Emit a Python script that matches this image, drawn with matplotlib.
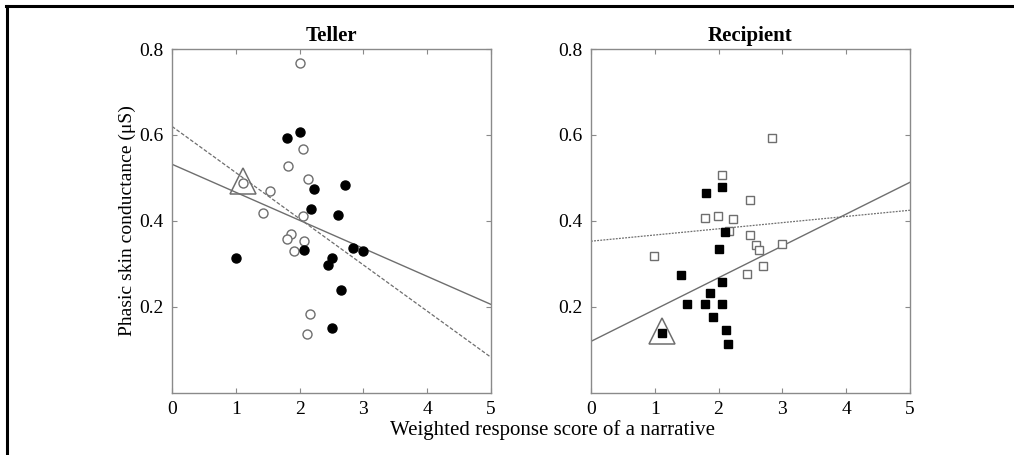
"""Phasic skin conductance vs weighted response score, Teller / Recipient panels."""

import matplotlib

matplotlib.use("Agg")
import matplotlib.pyplot as plt
from matplotlib.lines import Line2D

plt.rcParams["font.family"] = ["Liberation Serif", "DejaVu Serif"]

# Teller: filled circles
teller_filled_x = [1.80, 2.00, 2.23, 2.71, 2.18, 2.61, 2.07, 1.00, 2.83, 3.00, 2.51, 2.45, 2.65, 2.51]
teller_filled_y = [0.594, 0.607, 0.475, 0.483, 0.429, 0.414, 0.333, 0.314, 0.338, 0.330, 0.314, 0.297, 0.240, 0.150]
# Teller: open circles
teller_open_x = [2.00, 2.06, 1.82, 2.13, 1.12, 1.53, 1.42, 2.06, 1.87, 1.80, 2.07, 1.92, 2.16, 2.12]
teller_open_y = [0.768, 0.567, 0.529, 0.497, 0.488, 0.470, 0.419, 0.412, 0.369, 0.357, 0.353, 0.331, 0.184, 0.137]

# Recipient: open squares
recip_open_x = [2.83, 2.05, 2.49, 1.79, 1.99, 2.23, 2.17, 2.49, 2.59, 2.64, 2.99, 0.99, 2.69, 2.44]
recip_open_y = [0.592, 0.508, 0.449, 0.406, 0.412, 0.405, 0.376, 0.367, 0.345, 0.332, 0.347, 0.318, 0.295, 0.277]
# Recipient: filled squares
recip_filled_x = [2.05, 1.81, 2.10, 2.00, 1.41, 2.05, 1.86, 1.51, 1.79, 2.05, 1.91, 2.11, 2.15, 1.11]
recip_filled_y = [0.480, 0.464, 0.375, 0.336, 0.275, 0.257, 0.233, 0.206, 0.207, 0.206, 0.176, 0.146, 0.114, 0.139]

# highlighted cases (triangle)
teller_mark = (1.12, 0.488)
recip_mark = (1.11, 0.139)

# fitted lines, values at x = 0 and x = 5
fit_x = [0, 5]
teller_solid = [0.532, 0.206]
teller_dashed = [0.620, 0.083]
recip_solid = [0.120, 0.490]
recip_dotted = [0.353, 0.425]

titles = ["Teller", "Recipient"]
x_ticks = [0, 1, 2, 3, 4, 5]
y_ticks = [0.2, 0.4, 0.6, 0.8]

GRAY = "#6e6e6e"
AXIS_GRAY = "#8a8a8a"

fig = plt.figure(figsize=(10.14, 4.55), dpi=100)
ax_t = fig.add_axes([0.1696, 0.1363, 0.3146, 0.756])
ax_r = fig.add_axes([0.5828, 0.1363, 0.3146, 0.756])

# Teller panel
ax_t.plot(fit_x, teller_solid, color=GRAY, lw=1.0)
ax_t.plot(fit_x, teller_dashed, color=GRAY, lw=0.9, ls=(0, (3, 1.5)))
ax_t.plot(teller_open_x, teller_open_y, "o", ms=6.5, mfc="white", mec=GRAY, mew=1.0)
ax_t.plot(teller_filled_x, teller_filled_y, "o", ms=6.5, mfc="black", mec="black")
ax_t.plot(teller_mark[0], teller_mark[1] + 0.005, "^", ms=19, mfc="none", mec=GRAY, mew=1.1)

# Recipient panel
ax_r.plot(fit_x, recip_solid, color=GRAY, lw=1.0)
ax_r.plot(fit_x, recip_dotted, color=GRAY, lw=0.9, ls=(0, (1.5, 1)))
ax_r.plot(recip_open_x, recip_open_y, "s", ms=5.5, mfc="white", mec=GRAY, mew=1.0)
ax_r.plot(recip_filled_x, recip_filled_y, "s", ms=5.5, mfc="black", mec="black")
ax_r.plot(recip_mark[0], recip_mark[1] + 0.005, "^", ms=19, mfc="none", mec=GRAY, mew=1.1)

for ax, title in zip([ax_t, ax_r], titles):
    ax.set_xlim(0, 5)
    ax.set_ylim(0, 0.8)
    ax.set_xticks(x_ticks)
    ax.set_xticklabels([str(t) for t in x_ticks])
    ax.set_yticks(y_ticks)
    ax.set_yticklabels([f"{t:.1f}" for t in y_ticks])
    ax.tick_params(direction="in", length=3.5, width=0.8, color=AXIS_GRAY,
                   top=True, right=True, labelsize=14, pad=6)
    for sp in ax.spines.values():
        sp.set_color(AXIS_GRAY)
        sp.set_linewidth(1.0)
    ax.set_title(title, fontsize=15, fontweight="bold", pad=6)

ax_t.set_ylabel("Phasic skin conductance (μS)", fontsize=14, labelpad=2)
fig.text(0.545, 0.055, "Weighted response score of a narrative", ha="center", va="center", fontsize=15)

# frame lines (top and left) from the original page
fig.add_artist(Line2D([0.006, 1.0], [0.987, 0.987], color="black", lw=2.2, transform=fig.transFigure))
fig.add_artist(Line2D([0.0065, 0.0065], [0.0, 0.987], color="black", lw=2.2, transform=fig.transFigure))

fig.savefig("out.png", dpi=100)
